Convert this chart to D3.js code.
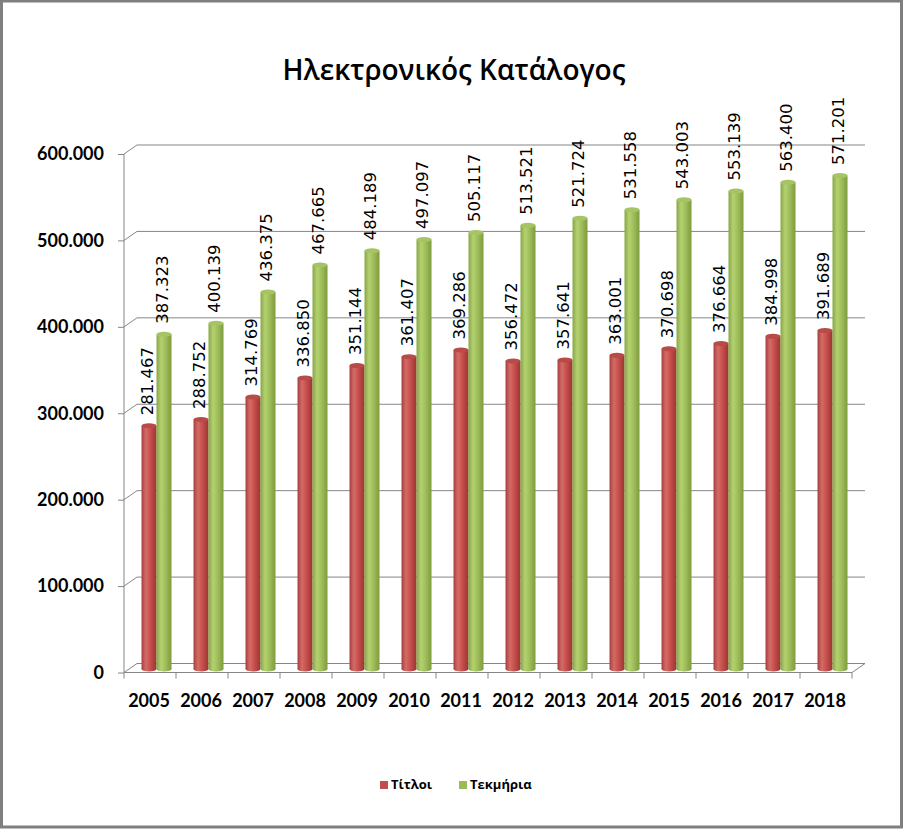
<!DOCTYPE html>
<html><head><meta charset="utf-8">
<script src="https://cdn.jsdelivr.net/npm/d3@7"></script>
<style>html,body{margin:0;padding:0;background:#fff;}</style>
</head><body>
<svg id="c" width="903" height="829"></svg>
<script>
const years = ["2005","2006","2007","2008","2009","2010","2011","2012","2013","2014","2015","2016","2017","2018"];
const titloi = [281467,288752,314769,336850,351144,361407,369286,356472,357641,363001,370698,376664,384998,391689];
const tekmiria = [387323,400139,436375,467665,484189,497097,505117,513521,521724,531558,543003,553139,563400,571201];
const yTicks = [0,100000,200000,300000,400000,500000,600000];
const seriesNames = ["Τίτλοι","Τεκμήρια"];
const title = "Ηλεκτρονικός Κατάλογος";

const loc = d3.formatLocale({decimal:",", thousands:".", grouping:[3], currency:["","€"]});
const fmt = loc.format(",d");

const svg = d3.select("#c");
const W = 903, H = 829;
const DX = 13, DY = -9;

// frame
svg.append("rect").attr("x",1.5).attr("y",1).attr("width",W-3).attr("height",H-3)
  .attr("fill","#fff").attr("stroke","#7f7f7f").attr("stroke-width",3);

const defs = svg.append("defs");
function grad(id, stops){
  const g = defs.append("linearGradient").attr("id",id).attr("x1","0").attr("x2","1").attr("y1","0").attr("y2","0");
  stops.forEach(s=>g.append("stop").attr("offset",s[0]).attr("stop-color",s[1]));
}
grad("gRed",[[0,"#a83f3c"],[0.3,"#d46b67"],[0.55,"#c9524e"],[1,"#9c3532"]]);
grad("gGreen",[[0,"#86a545"],[0.3,"#b4d16f"],[0.55,"#a3c25f"],[1,"#7e9b3e"]]);

// scales
const yFront = d3.scaleLinear().domain([0,600000]).range([672.5,154]);
const yBar = d3.scaleLinear().domain([0,600000]).range([669,150.6]);
const xFront = d3.scaleBand().domain(years).range([124,852]);
const xBar = d3.scaleBand().domain(years).range([124+DX/2,852+DX/2]);
const xSeries = d3.scaleBand().domain(seriesNames).range([-15,15]);

const gridColor = "#868686";
const grid = svg.append("g");
yTicks.forEach(t=>{
  const yf = yFront(t);
  grid.append("line").attr("x1",124).attr("y1",yf).attr("x2",124+DX).attr("y2",yf+DY).attr("stroke",gridColor);
  grid.append("line").attr("x1",124+DX).attr("y1",yf+DY).attr("x2",852+DX).attr("y2",yf+DY).attr("stroke",gridColor);
});
grid.append("line").attr("x1",852).attr("y1",yFront(0)).attr("x2",852+DX).attr("y2",yFront(0)+DY).attr("stroke",gridColor);

// y axis
const yAxis = d3.axisLeft(yFront).tickValues(yTicks).tickFormat(fmt).tickSize(6).tickPadding(14);
const ya = svg.append("g").attr("transform","translate(124,0)").call(yAxis);
ya.select(".domain").attr("stroke",gridColor).attr("d","M0,"+yFront(600000)+"V"+yFront(0));
ya.selectAll(".tick line").attr("stroke",gridColor);
ya.selectAll("text").attr("font-family","Lato, sans-serif").attr("font-weight","bold").attr("font-size","18px").attr("fill","#000");

// x axis
const xAxis = d3.axisBottom(xFront).tickSize(0).tickPadding(22);
const xa = svg.append("g").attr("transform","translate(0,"+yFront(0)+")").call(xAxis);
xa.select(".domain").attr("stroke",gridColor).attr("d","M124,0H852");
xa.selectAll("text").attr("font-family","Lato, sans-serif").attr("font-weight","bold").attr("font-size","18px").attr("fill","#000").attr("dx","-1");
for(let i=0;i<=years.length;i++){
  xa.append("line").attr("x1",124+i*52).attr("x2",124+i*52).attr("y1",0).attr("y2",6).attr("stroke",gridColor);
}

// bars
const series = [
  {name:seriesNames[0], vals:titloi, fill:"url(#gRed)", top:"#b84a47"},
  {name:seriesNames[1], vals:tekmiria, fill:"url(#gGreen)", top:"#a6c465"}
];
const bw = 15, ry = 2.5;
const bars = svg.append("g");
const labels = svg.append("g");
years.forEach((yr,i)=>{
  series.forEach(s=>{
    const cx = xBar(yr)+xBar.bandwidth()/2 + xSeries(s.name)+xSeries.bandwidth()/2;
    const y0 = yBar(0), y1 = yBar(s.vals[i]);
    const g = bars.append("g");
    g.append("ellipse").attr("cx",cx).attr("cy",y0).attr("rx",bw/2).attr("ry",ry).attr("fill",s.fill);
    g.append("rect").attr("x",cx-bw/2).attr("y",y1).attr("width",bw).attr("height",y0-y1).attr("fill",s.fill);
    g.append("ellipse").attr("cx",cx).attr("cy",y1).attr("rx",bw/2).attr("ry",ry).attr("fill",s.top);
    labels.append("text").attr("transform","translate("+(cx-1.5)+","+(y1-ry-8)+") rotate(-90)")
      .attr("dominant-baseline","central").attr("text-anchor","start")
      .attr("font-family","'DejaVu Sans', sans-serif").attr("font-size","16.5px").attr("fill","#000")
      .text(fmt(s.vals[i]));
  });
});

// title
svg.append("text").attr("x",454).attr("y",80).attr("text-anchor","middle")
  .attr("font-family","'Open Sans', sans-serif").attr("font-weight","600").attr("font-size","28px").attr("fill","#000")
  .text(title);

// legend
const leg = svg.append("g");
const legX = [380,459];
const legCol = ["#c0504d","#9bbb59"];
seriesNames.forEach((n,i)=>{
  leg.append("rect").attr("x",legX[i]).attr("y",781).attr("width",8).attr("height",8).attr("fill",legCol[i]);
  leg.append("text").attr("x",legX[i]+11).attr("y",789).attr("font-family","'Open Sans', sans-serif")
    .attr("font-weight","bold").attr("font-size","13px").attr("fill","#000").text(n);
});
</script>
</body></html>
